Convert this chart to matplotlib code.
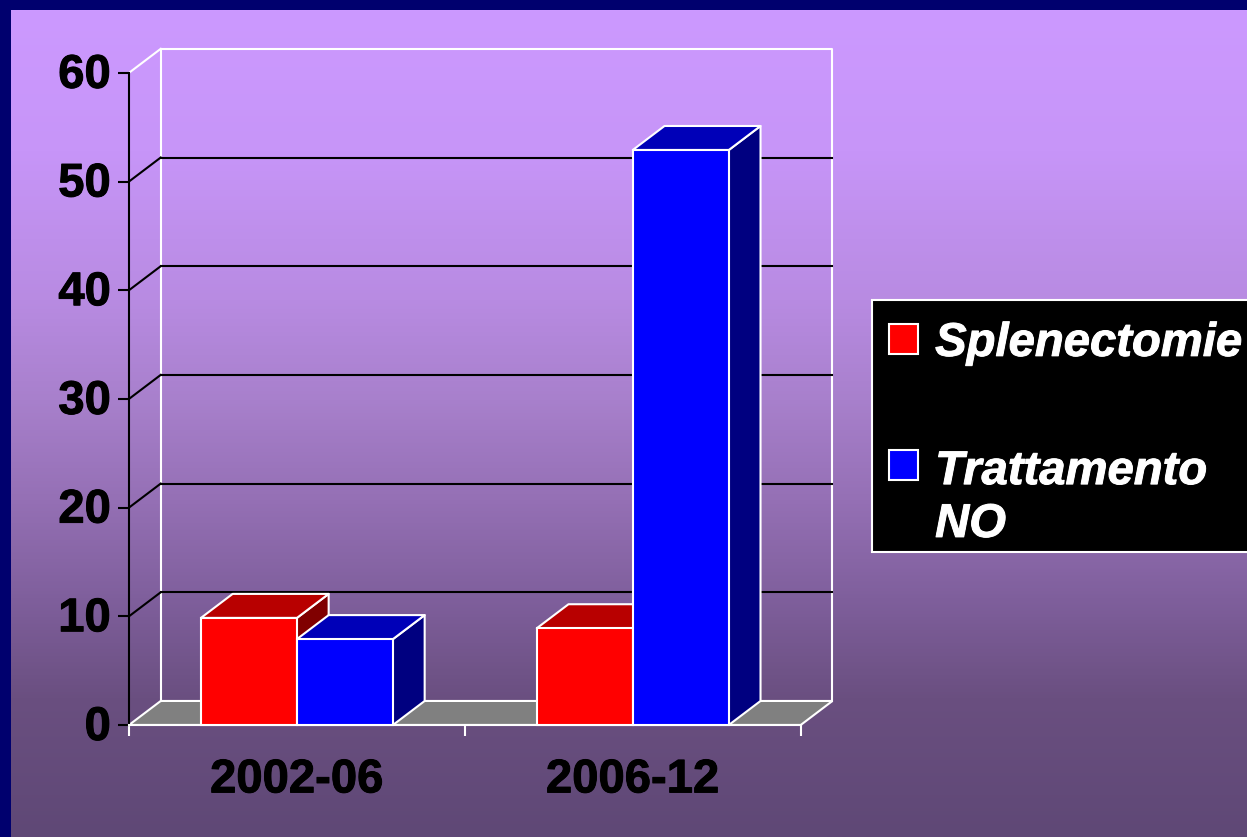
import numpy as np
import matplotlib
matplotlib.use("Agg")
import matplotlib.pyplot as plt
import matplotlib.patheffects as pe
from matplotlib.patches import Polygon, Rectangle
from matplotlib.colors import LinearSegmentedColormap
from matplotlib.transforms import ScaledTranslation

categories = ["2002-06", "2006-12"]
series_names = ["Splenectomie", "Trattamento\nNO"]
splenectomie = [9.85, 8.9]
trattamento = [7.9, 52.9]
y_ticks = [0, 10, 20, 30, 40, 50, 60]

W, H = 1247, 837
plt.rcParams['font.family'] = ['Liberation Sans', 'DejaVu Sans']
fig = plt.figure(figsize=((W + 0.2) / 100, (H + 0.2) / 100), dpi=100)
fig.patch.set_facecolor('#00006E')

def fx(p): return p / W
def fy(p): return 1 - p / H

LW = 1.5

def embolden(t, col):
    t.set_path_effects([pe.withStroke(linewidth=0.7, foreground=col)])

# gradient background
bg = fig.add_axes([fx(11), 0, 1 - fx(11), 1 - 10 / H])
bg.axis('off')
stops = [(10, '#CC99FF'), (150, '#C795F8'), (300, '#B88BE2'), (400, '#A880CC'),
         (500, '#9570B5'), (600, '#7F5F9C'), (700, '#6A4F80'), (837, '#5F4876')]
cmap = LinearSegmentedColormap.from_list('g', [((p - 10) / 827, c) for p, c in stops])
bg.imshow(np.linspace(0, 1, 512).reshape(-1, 1), aspect='auto', cmap=cmap, extent=[0, 1, 0, 1])
bg.set_xlim(0, 1); bg.set_ylim(0, 1)

# main axes: pixel box of the front plane
L, R, T, B = 129, 800.6, 73, 725
ax = fig.add_axes([fx(L), fy(B), fx(R - L), (B - T) / H], zorder=2)
ax.set_xlim(0, 2)
ax.set_ylim(0, 60)
ax.patch.set_alpha(0)
for s in ['top', 'right']:
    ax.spines[s].set_visible(False)
ax.spines['left'].set_linewidth(LW)
ax.spines['left'].set_color('black')
ax.spines['bottom'].set_linewidth(LW)
ax.spines['bottom'].set_color('white')

dx = 31.7 / ((R - L) / 2)
dy = 24 / ((B - T) / 60)
ymax = 60

# floor
ax.add_patch(Polygon([(0, 0), (dx, dy), (2 + dx, dy), (2, 0)], closed=True,
                     facecolor='#808080', edgecolor='white', lw=LW, clip_on=False, zorder=1))
# back wall outline
ax.plot([dx, dx, 2 + dx, 2 + dx], [dy, ymax + dy, ymax + dy, dy], color='white', lw=LW, clip_on=False, zorder=1)
ax.plot([0, dx], [ymax, ymax + dy], color='white', lw=LW, clip_on=False, zorder=1)

# gridlines with side-wall slant
for t in y_ticks[1:-1]:
    ax.plot([dx, 2 + dx], [t + dy, t + dy], color='black', lw=LW, clip_on=False, zorder=1.2)
    ax.plot([0, dx], [t, t + dy], color='black', lw=LW, clip_on=False, zorder=1.2)

width = 96 / ((R - L) / 2)
def bar3d(x0, v, front, top, side, z):
    kw = dict(closed=True, edgecolor='white', lw=LW, clip_on=False, zorder=z, joinstyle='round')
    ax.add_patch(Polygon([(x0 + width, 0), (x0 + width + dx, dy), (x0 + width + dx, v + dy), (x0 + width, v)],
                         facecolor=side, **kw))
    ax.add_patch(Polygon([(x0, v), (x0 + dx, v + dy), (x0 + width + dx, v + dy), (x0 + width, v)],
                         facecolor=top, **kw))
    ax.add_patch(Rectangle((x0, 0), width, v, facecolor=front, edgecolor='white', lw=LW, clip_on=False, zorder=z))

for i in range(len(categories)):
    bar3d(i + 0.5 - width, splenectomie[i], '#FF0000', '#B80000', '#800000', 3 + i)
    bar3d(i + 0.5, trattamento[i], '#0000FF', '#0000B8', '#000080', 3.5 + i)

ax.set_xticks([0, 1, 2])
ax.set_xticklabels([])
ax.tick_params(axis='x', length=8, width=LW, color='white', direction='out')
ax.set_yticks(y_ticks)
ax.set_yticklabels([str(t) for t in y_ticks], fontsize=34, fontweight='bold', color='black')
ax.tick_params(axis='y', length=8, width=LW, color='black', direction='out', pad=5)
lift = ScaledTranslation(0, 2 / 100, fig.dpi_scale_trans)
for lab in ax.get_yticklabels():
    lab.set_transform(lab.get_transform() + lift)
    embolden(lab, 'black')
for i, c in enumerate(categories):
    t = ax.text(i + 0.5, -5.1, c, ha='center', va='center', fontsize=34, fontweight='bold', color='black', clip_on=False)
    embolden(t, 'black')

# legend
box = Rectangle((fx(872), fy(552)), fx(1250 - 872), (552 - 300) / H, transform=fig.transFigure,
                facecolor='black', edgecolor='white', lw=LW, zorder=5)
fig.add_artist(box)
for (py, col, name, ty) in [(339, '#FF0000', series_names[0], 356), (465, '#0000FF', series_names[1], 537)]:
    fig.add_artist(Rectangle((fx(889), fy(py + 15)), fx(29), 30 / H, transform=fig.transFigure,
                             facecolor=col, edgecolor='white', lw=LW, zorder=6))
    t = fig.text(fx(935), fy(ty), name, fontsize=34, fontweight='bold', fontstyle='italic', color='white',
                 va='baseline', ha='left', zorder=6, linespacing=1.26)
    embolden(t, 'white')

fig.savefig('out.png', dpi=100, facecolor=fig.get_facecolor())
